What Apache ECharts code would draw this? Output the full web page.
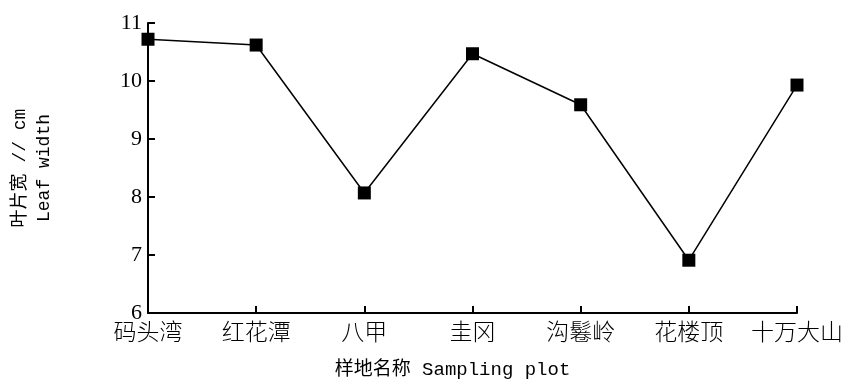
<!DOCTYPE html>
<html>
<head>
<meta charset="utf-8">
<script src="https://cdn.jsdelivr.net/npm/echarts@6/dist/echarts.min.js"></script>
<style>
html, body { margin: 0; padding: 0; background: #fff; }
#main { width: 862px; height: 390px; }
</style>
</head>
<body>
<div id="main"></div>
<script>
// 样地
var sites = ['码头湾', '红花潭', '八甲', '圭冈', '沟鬈岭', '花楼顶', '十万大山'];
// 叶片宽 cm
var leafWidth = [10.72, 10.62, 8.07, 10.47, 9.59, 6.91, 9.93];

var serif = '"Liberation Serif", "Noto Sans CJK SC", serif';
// latin in mono (like SimSun half-width), CJK falls back to Noto
var mixed = '"Liberation Mono", "Noto Sans CJK SC", monospace';
var cjk = '"Noto Sans CJK SC", "Liberation Serif", serif';

var myChart = echarts.init(document.getElementById('main'));

myChart.setOption({
    animation: false,
    grid: { left: 145, right: 65, top: 23, bottom: 77 },
    xAxis: {
        type: 'category',
        data: sites,
        boundaryGap: false,
        name: '样地名称 Sampling plot',
        nameLocation: 'middle',
        nameGap: 47,
        nameTextStyle: { color: '#000', fontSize: 19, fontFamily: mixed, padding: [0, 40, 0, 0] },
        axisLine: { lineStyle: { color: '#000', width: 2 } },
        axisTick: { inside: true, length: 7, lineStyle: { color: '#000', width: 2 } },
        axisLabel: { color: '#000', fontSize: 23, fontFamily: cjk, fontWeight: 300, margin: 7, interval: 0 },
        splitLine: { show: false }
    },
    yAxis: {
        type: 'value',
        min: 6,
        max: 11,
        interval: 1,
        name: '叶片宽 // cm\nLeaf width',
        nameLocation: 'middle',
        nameRotate: 90,
        nameGap: 92,
        nameTextStyle: { color: '#000', fontSize: 18, fontFamily: mixed, lineHeight: 24 },
        axisLine: { show: true, lineStyle: { color: '#000', width: 2 } },
        axisTick: { show: true, inside: true, length: 7, lineStyle: { color: '#000', width: 2 } },
        axisLabel: { color: '#000', fontSize: 22, fontFamily: serif, margin: 6 },
        splitLine: { show: false }
    },
    series: [{
        type: 'line',
        data: leafWidth,
        symbol: 'rect',
        symbolSize: 13,
        clip: false,
        lineStyle: { color: '#000', width: 1.5 },
        itemStyle: { color: '#000' }
    }]
});
</script>
</body>
</html>
